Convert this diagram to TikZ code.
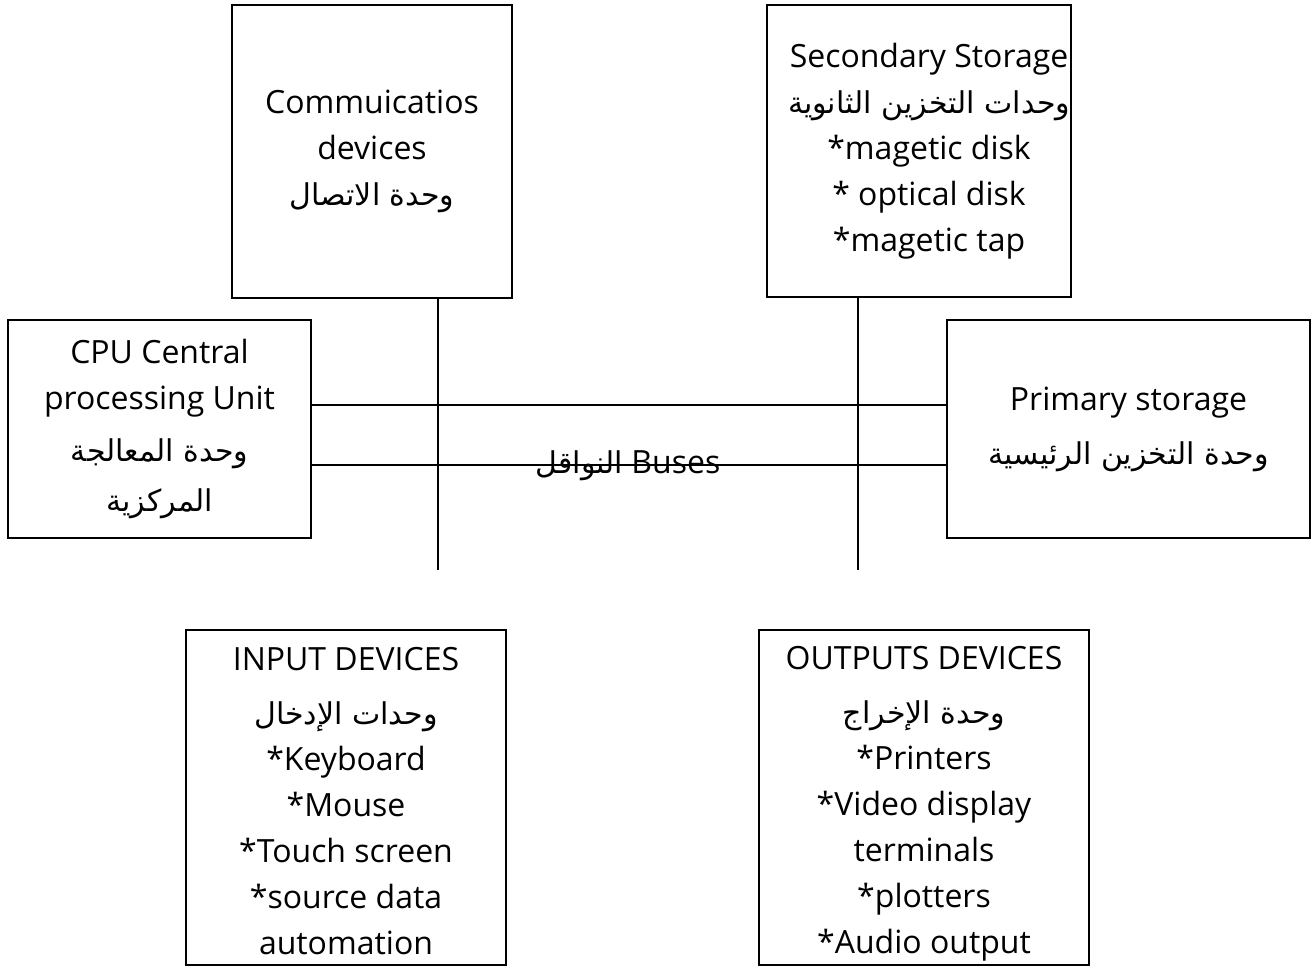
\documentclass[tikz,border=0pt]{standalone}
\usepackage{fontspec}
\setmainfont{Open Sans}
\newfontfamily\arabicfont[Script=Arabic]{DejaVu Sans}
\TeXXeTstate=1
\lineskiplimit=-1000pt
\newcommand{\ar}[1]{{\arabicfont\fontsize{30}{46}\selectfont\beginR #1\endR}}
\newcommand{\sh}{\hspace*{20pt}}
\begin{document}
\begin{tikzpicture}[x=1pt,y=-1pt,
  box/.style={draw,line width=1.8pt,inner sep=0pt,align=center,
    font=\fontsize{32}{46}\selectfont},
  bus/.style={line width=1.5pt}]
\useasboundingbox (0,0) rectangle (1314,970);
\node[box,minimum width=280pt,minimum height=293pt] (comm) at (372,151.5)
  {Commuicatios\\devices\\{}\ar{وحدة الاتصال}};
\node[box,minimum width=304pt,minimum height=292pt] (sec) at (919,151)
  {\sh Secondary Storage\\\sh\ar{وحدات التخزين الثانوية}\\\sh*magetic disk\\\sh* optical disk\\\sh*magetic tap};
\node[box,minimum width=303pt,minimum height=218pt] (cpu) at (159.5,429)
  {CPU Central\\processing Unit\\[6pt]\ar{وحدة المعالجة}\\[4pt]\ar{المركزية}};
\node[box,minimum width=363pt,minimum height=218pt] (prim) at (1128.5,429)
  {Primary storage\\[8pt]\ar{وحدة التخزين الرئيسية}};
\node[box,minimum width=320pt,minimum height=335pt] (in) at (346,797.5)
  {\rule{0pt}{30pt}INPUT DEVICES\\[8pt]\ar{وحدات الإدخال}\\{}*Keyboard\\{}*Mouse\\{}*Touch screen\\{}*source data\\automation};
\node[box,minimum width=330pt,minimum height=335pt] (out) at (924,797.5)
  {\rule{0pt}{36pt}OUTPUTS DEVICES\\[8pt]\ar{وحدة الإخراج}\\{}*Printers\\{}*Video display\\terminals\\{}*plotters\\{}*Audio output};
\coordinate (c1) at (438,570);
\coordinate (c2) at (858,570);
\draw[bus] ([yshift=24pt]cpu.east) -- ([yshift=24pt]cpu.east -| prim.west);
\draw[bus] ([yshift=-36pt]cpu.east) -- ([yshift=-36pt]cpu.east -| prim.west);
\draw[bus] ([xshift=66pt]comm.south) -- (c1);
\draw[bus] ([xshift=-61pt]sec.south) -- (c2);
\node[font=\fontsize{32}{36}\selectfont,inner sep=0pt] (buses) at (628,466)
  {\ar{النواقل} Buses};
\end{tikzpicture}
\end{document}
